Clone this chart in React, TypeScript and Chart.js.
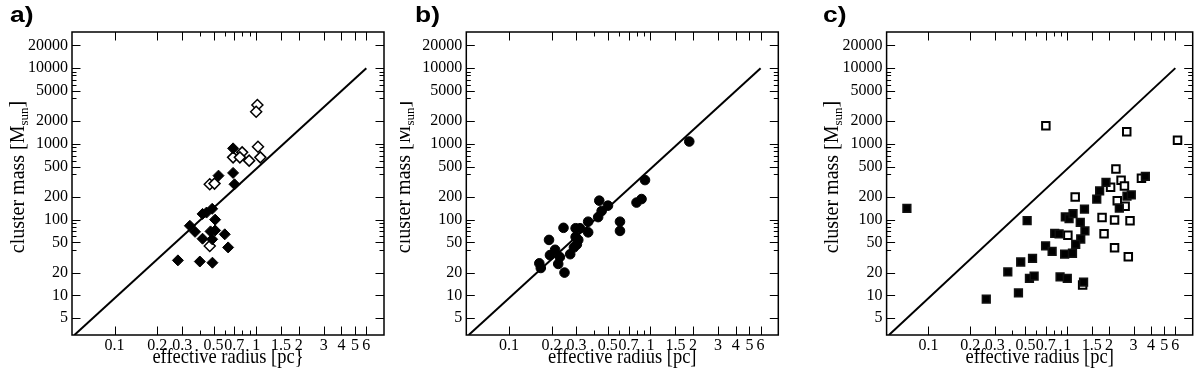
import React, { useEffect, useRef } from 'react';
import { Chart, registerables } from 'chart.js';

Chart.register(...registerables);

// ---- axes ----
const xTickValues = [0.1, 0.2, 0.3, 0.5, 0.7, 1, 1.5, 2, 3, 4, 5, 6];
const xMinorTickValues = [0.4, 0.6, 0.8, 0.9];
const yTickValues = [5, 10, 20, 50, 100, 200, 500, 1000, 2000, 5000, 10000, 20000];
const yMinorTickValues = [40, 60, 70, 80, 90, 400, 600, 700, 800, 900, 4000, 6000, 7000, 8000, 9000];
const xMin = 0.05;
const xMax = 8;
const yMin = 3;
const yMax = 30000;

// ---- reference relation (straight line in log-log) ----
const relationR = [0.052, 6];
const relationM = [3, 10000];

// ---- panel a ----
const aFilledR = [0.687, 0.687, 0.542, 0.703, 0.418, 0.446, 0.489, 0.34, 0.37, 0.513, 0.476, 0.513, 0.418, 0.489, 0.6, 0.634, 0.28, 0.4, 0.491];
const aFilledM = [873, 414, 381, 293, 119, 124, 139, 83, 69, 100, 70, 72, 56, 55, 64, 43, 29, 28, 27];
const aOpenR = [1.02, 1.0, 0.687, 0.796, 0.767, 0.892, 1.03, 1.07, 0.47, 0.508, 0.47];
const aOpenM = [3260, 2660, 664, 773, 664, 601, 918, 664, 293, 299, 45];

// ---- panel b ----
const bR = [1.88, 0.915, 0.865, 0.797, 0.435, 0.501, 0.452, 0.427, 0.609, 0.609, 0.363, 0.363, 0.243, 0.296, 0.318, 0.296, 0.309, 0.302, 0.288, 0.192, 0.212, 0.195, 0.229, 0.271, 0.164, 0.168, 0.223, 0.247];
const bM = [1075, 333, 187, 168, 178, 153, 130, 108, 94, 71, 94, 68, 78, 77, 77, 59, 54, 47, 43, 54, 40, 34, 32, 35, 26.5, 23, 26, 20];

// ---- panel c ----
const cFilledR = [0.07, 0.514, 1.9, 1.71, 1.63, 3.65, 2.69, 2.89, 2.37, 1.33, 0.968, 1.03, 1.1, 1.24, 1.34, 0.812, 0.873, 1.25, 1.15, 0.698, 0.778, 0.957, 1.09, 0.887, 1.0, 1.31, 0.562, 0.462, 0.373, 0.534, 0.577, 0.445, 0.261];
const cFilledM = [141, 97, 311, 239, 187, 373, 205, 213, 142, 138, 109, 103, 120, 92, 71, 66, 65, 55.5, 47, 45, 38, 35, 36, 17.6, 16.8, 15, 30.8, 27.6, 20.5, 16.8, 18, 10.8, 8.9];
const cOpenR = [0.701, 2.68, 6.22, 2.24, 2.44, 2.05, 2.58, 3.42, 1.14, 2.29, 2.61, 1.78, 2.19, 2.83, 1.01, 1.84, 2.19, 2.75, 1.29];
const cOpenM = [1737, 1447, 1114, 466, 330, 267, 278, 351, 199, 178, 150, 107, 99, 97, 62, 65, 42.6, 32.4, 13.7];

const SERIF = "'Liberation Serif', 'Times New Roman', serif";
const SANS = "'Liberation Sans', Arial, sans-serif";

const zip = (xs: number[], ys: number[]) => xs.map((x, i) => ({ x, y: ys[i] }));

type PanelCfg = {
  label: string;
  xTitle: string;
  canvasLeft: number;
  L: number;
  R: number;
  T: number;
  B: number;
  labelX: number;
  yTitleX: number;
  datasets: any[];
};

const lineDataset = () => ({
  data: zip(relationR, relationM),
  showLine: true,
  borderColor: '#000',
  borderWidth: 2,
  pointRadius: 0,
  fill: false,
});

const panels: PanelCfg[] = [
  {
    label: 'a)',
    xTitle: 'effective radius [pc}',
    canvasLeft: 0,
    L: 72, R: 384, T: 32, B: 335,
    labelX: 10,
    yTitleX: 24,
    datasets: [
      { data: zip(aFilledR, aFilledM), pointStyle: 'rectRot', pointRadius: 5.5, backgroundColor: '#000', borderColor: '#000', borderWidth: 1 },
      { data: zip(aOpenR, aOpenM), pointStyle: 'rectRot', pointRadius: 5.5, backgroundColor: '#fff', borderColor: '#000', borderWidth: 1.5 },
      lineDataset(),
    ],
  },
  {
    label: 'b)',
    xTitle: 'effective radius [pc]',
    canvasLeft: 400,
    L: 66.3, R: 378.3, T: 32, B: 335,
    labelX: 15,
    yTitleX: 10,
    datasets: [
      { data: zip(bR, bM), pointStyle: 'circle', pointRadius: 4.8, backgroundColor: '#000', borderColor: '#000', borderWidth: 1 },
      lineDataset(),
    ],
  },
  {
    label: 'c)',
    xTitle: 'effective radius [pc]',
    canvasLeft: 800,
    L: 86.6, R: 397.3, T: 32, B: 335,
    labelX: 23,
    yTitleX: 38,
    datasets: [
      { data: zip(cFilledR, cFilledM), pointStyle: 'rect', pointRadius: 5.5, backgroundColor: '#000', borderColor: '#111', borderWidth: 1.5 },
      { data: zip(cOpenR, cOpenM), pointStyle: 'rect', pointRadius: 5.3, backgroundColor: '#fff', borderColor: '#000', borderWidth: 2 },
      lineDataset(),
    ],
  },
];

function decorPlugin(cfg: PanelCfg) {
  return {
    id: 'decor',
    afterDraw(chart: any) {
      const ctx = chart.ctx as CanvasRenderingContext2D;
      const { left, right, top, bottom } = chart.chartArea;
      const xs = chart.scales.x;
      const ys = chart.scales.y;
      ctx.save();
      ctx.strokeStyle = '#000';
      ctx.lineWidth = 1;
      const tickX = (vals: number[], len: number) => {
        vals.forEach((v) => {
          const px = Math.round(xs.getPixelForValue(v)) + 0.5;
          ctx.beginPath();
          ctx.moveTo(px, bottom);
          ctx.lineTo(px, bottom - len);
          ctx.moveTo(px, top);
          ctx.lineTo(px, top + len);
          ctx.stroke();
        });
      };
      const tickY = (vals: number[], len: number) => {
        vals.forEach((v) => {
          const py = Math.round(ys.getPixelForValue(v)) + 0.5;
          ctx.beginPath();
          ctx.moveTo(left, py);
          ctx.lineTo(left + len, py);
          ctx.moveTo(right, py);
          ctx.lineTo(right - len, py);
          ctx.stroke();
        });
      };
      tickX(xTickValues, 8.5);
      tickX(xMinorTickValues, 4.5);
      tickY(yTickValues, 8.5);
      tickY(yMinorTickValues, 4.5);
      ctx.lineWidth = 1.5;
      ctx.strokeRect(left, top, right - left, bottom - top);

      ctx.fillStyle = '#000';
      // x title
      ctx.save();
      ctx.font = `21px ${SERIF}`;
      ctx.textBaseline = 'alphabetic';
      ctx.textAlign = 'center';
      ctx.translate((left + right) / 2, 363);
      ctx.scale(0.88, 1);
      ctx.fillText(cfg.xTitle, 0, 0);
      ctx.restore();

      // y title with subscript
      ctx.save();
      ctx.translate(cfg.yTitleX, 177);
      ctx.rotate(-Math.PI / 2);
      ctx.textBaseline = 'alphabetic';
      ctx.textAlign = 'left';
      const mainFont = `20px ${SERIF}`;
      const subFont = `13px ${SERIF}`;
      const p1 = 'cluster mass [M';
      const p2 = 'sun';
      const p3 = ']';
      ctx.font = mainFont;
      const w1 = ctx.measureText(p1).width;
      const w3 = ctx.measureText(p3).width;
      ctx.font = subFont;
      const w2 = ctx.measureText(p2).width;
      const total = w1 + w2 + w3;
      let x0 = -total / 2;
      ctx.font = mainFont;
      ctx.fillText(p1, x0, 0);
      x0 += w1;
      ctx.font = subFont;
      ctx.fillText(p2, x0, 4);
      x0 += w2;
      ctx.font = mainFont;
      ctx.fillText(p3, x0, -1);
      ctx.restore();

      // panel label
      ctx.save();
      ctx.font = `bold 22px ${SANS}`;
      ctx.textBaseline = 'alphabetic';
      ctx.textAlign = 'left';
      ctx.translate(cfg.labelX, 22);
      ctx.scale(1.2, 1);
      ctx.fillText(cfg.label, 0, 0);
      ctx.restore();

      ctx.restore();
    },
  };
}

function Panel({ cfg }: { cfg: PanelCfg }) {
  const ref = useRef<HTMLCanvasElement | null>(null);
  useEffect(() => {
    if (!ref.current) return;
    const W = 400;
    const H = 373;
    const chart = new Chart(ref.current, {
      type: 'scatter',
      data: { datasets: cfg.datasets },
      options: {
        responsive: false,
        animation: false,
        events: [],
        devicePixelRatio: 1,
        layout: { padding: { left: 0, right: W - cfg.R, top: cfg.T, bottom: 0 } },
        plugins: { legend: { display: false }, tooltip: { enabled: false } },
        scales: {
          x: {
            type: 'logarithmic',
            position: 'bottom',
            min: xMin,
            max: xMax,
            grid: { display: false, drawTicks: false },
            border: { display: false },
            afterBuildTicks: (scale: any) => {
              scale.ticks = xTickValues.map((v) => ({ value: v }));
            },
            afterFit: (scale: any) => {
              scale.height = H - cfg.B;
            },
            ticks: {
              autoSkip: false,
              maxRotation: 0,
              minRotation: 0,
              padding: 1,
              color: '#000',
              font: { family: SERIF, size: 16 },
              callback: (v: any) => String(v),
            },
          },
          y: {
            type: 'logarithmic',
            position: 'left',
            min: yMin,
            max: yMax,
            grid: { display: false, drawTicks: false },
            border: { display: false },
            afterBuildTicks: (scale: any) => {
              scale.ticks = yTickValues.map((v) => ({ value: v }));
            },
            afterFit: (scale: any) => {
              scale.width = cfg.L;
            },
            ticks: {
              autoSkip: false,
              padding: 4,
              color: '#000',
              font: { family: SERIF, size: 16 },
              callback: (v: any) => String(v),
            },
          },
        },
      } as any,
      plugins: [decorPlugin(cfg)],
    });
    return () => chart.destroy();
  }, [cfg]);
  return (
    <canvas
      ref={ref}
      width={400}
      height={373}
      style={{ position: 'absolute', left: cfg.canvasLeft, top: 0, width: 400, height: 373 }}
    />
  );
}

export default function App() {
  return (
    <div style={{ position: 'absolute', left: 0, top: 0, width: 1200, height: 373, background: '#fff', overflow: 'hidden' }}>
      {panels.map((p) => (
        <Panel key={p.label} cfg={p} />
      ))}
    </div>
  );
}
